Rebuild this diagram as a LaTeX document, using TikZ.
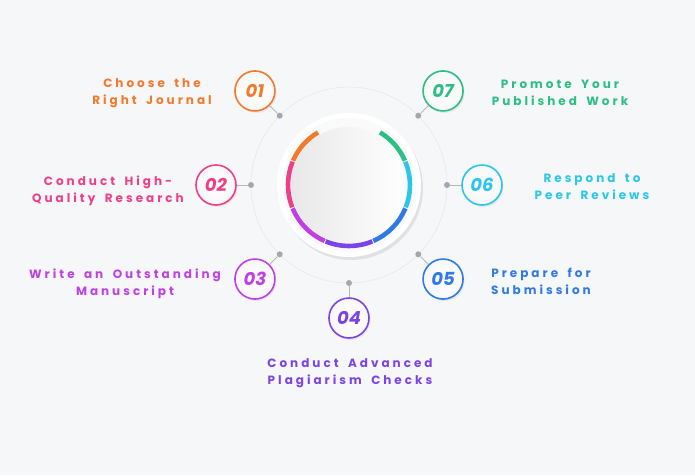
\documentclass[tikz,border=0pt]{standalone}
\usepackage{fontspec}
\setmainfont{Poppins}
\newfontfamily\labfont[LetterSpace=25, WordSpace=1.7, UprightFont={* Bold}]{Poppins}
\usepackage{tikz}
\usetikzlibrary{positioning, shadows}
\definecolor{Bg}{HTML}{F6F7F9}
\definecolor{Dot}{HTML}{A3A8AE}
\definecolor{Rim}{HTML}{E6E8EB}
\definecolor{Orange}{HTML}{F37A2C}
\definecolor{Pink}{HTML}{EE3F88}
\definecolor{Purple}{HTML}{C040E5}
\definecolor{Violet}{HTML}{7B44EA}
\definecolor{Blue}{HTML}{2F7AE5}
\definecolor{Cyan}{HTML}{2CC6E9}
\definecolor{Green}{HTML}{2CBF83}

\begin{document}
\begin{tikzpicture}[
  x=1pt, y=1pt,
  steptext/.style={font=\labfont\fontsize{12}{17}\selectfont, align=center},
  numball/.style={circle, minimum size=40pt, inner sep=0pt, inner color=white, outer color=gray!6, line width=1.6pt, font=\bfseries\itshape\fontsize{18}{18}\selectfont, drop shadow={opacity=0.12, shadow xshift=1.5pt, shadow yshift=-2pt}},
  dot/.style={circle, fill=Dot, inner sep=0pt, minimum size=6pt},
  link/.style={draw=Dot!80, line width=0.8pt},
  seg/.style={line width=4.6pt}
]
% page
\path[fill=Bg] (-349,185) rectangle (346,-290);

% hub
\draw[Rim, line width=0.6pt] (0,0) circle (98);
\fill[white, drop shadow={opacity=0.18, shadow xshift=2pt, shadow yshift=-3pt}] (0,0) circle (72);
\fill[Bg!60!white] (0,0) circle (67);
\shade[left color=gray!18, right color=white] (0,0) circle (58);

\draw[seg, Orange] (0,0) ++(120.5:61) arc[start angle=120.5, end angle=156.5, radius=61];
\draw[seg, Pink]   (0,0) ++(157.5:61) arc[start angle=157.5, end angle=201.5, radius=61];
\draw[seg, Purple] (0,0) ++(202.5:61) arc[start angle=202.5, end angle=246.5, radius=61];
\draw[seg, Violet] (0,0) ++(247.5:61) arc[start angle=247.5, end angle=292.5, radius=61];
\draw[seg, Blue]   (0,0) ++(293.5:61) arc[start angle=293.5, end angle=337.5, radius=61];
\draw[seg, Cyan]   (0,0) ++(338.5:61) arc[start angle=338.5, end angle=382.5, radius=61];
\draw[seg, Green]  (0,0) ++(383.5:61) arc[start angle=383.5, end angle=419.5, radius=61];

% dots on the rim
\node[dot] (d1) at (135:98) {};
\node[dot] (d2) at (180:98) {};
\node[dot] (d3) at (225:98) {};
\node[dot] (d4) at (270:98) {};
\node[dot] (d5) at (315:98) {};
\node[dot] (d6) at (0:98) {};
\node[dot] (d7) at (45:98) {};

% numbered steps
\node[numball, draw=Orange, text=Orange] (n1) at (135:133) {01};
\node[numball, draw=Pink,   text=Pink]   (n2) at (180:133) {02};
\node[numball, draw=Purple, text=Purple] (n3) at (225:133) {03};
\node[numball, draw=Violet, text=Violet] (n4) at (270:133) {04};
\node[numball, draw=Blue,   text=Blue]   (n5) at (315:133) {05};
\node[numball, draw=Cyan,   text=Cyan]   (n6) at (0:133) {06};
\node[numball, draw=Green,  text=Green]  (n7) at (45:133) {07};

\draw[link] (d1) -- (n1);
\draw[link] (d2) -- (n2);
\draw[link] (d3) -- (n3);
\draw[link] (d4) -- (n4);
\draw[link] (d5) -- (n5);
\draw[link] (d6) -- (n6);
\draw[link] (d7) -- (n7);

% labels
\node[steptext, text=Orange] (t1) at (-197,92) {Choose the\\Right Journal};
\node[steptext, text=Pink]   (t2) at (-241,-5.5) {Conduct High-\\Quality Research};
\node[steptext, text=Purple] (t3) at (-224,-99) {Write an Outstanding\\Manuscript};
\node[steptext, text=Violet] (t4) at (1,-188.5) {Conduct Advanced\\Plagiarism Checks};
\node[steptext, text=Blue]   (t5) at (192,-96) {Prepare for\\Submission};
\node[steptext, text=Cyan]   (t6) at (243,-2) {Respond to\\Peer Reviews};
\node[steptext, text=Green]  (t7) at (211,92) {Promote Your\\Published Work};
\end{tikzpicture}
\end{document}
